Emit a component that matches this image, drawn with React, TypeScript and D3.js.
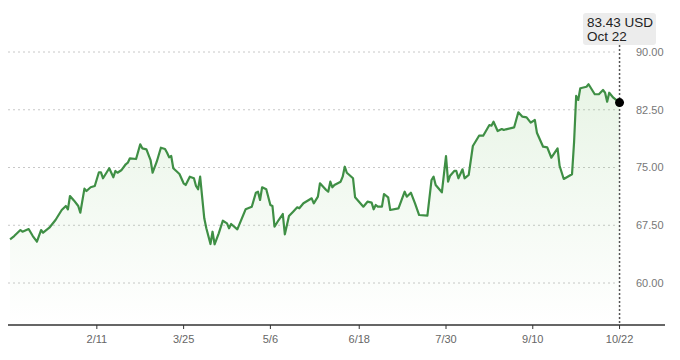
import * as d3 from "d3";

const WIDTH = 680;
const HEIGHT = 360;

// closing prices (USD)
const dates = [
  "2018-12-31", "2019-01-02", "2019-01-05", "2019-01-06", "2019-01-09", "2019-01-11", "2019-01-13", "2019-01-15", "2019-01-16", "2019-01-19",
  "2019-01-22", "2019-01-25", "2019-01-27", "2019-01-28", "2019-01-29", "2019-01-31", "2019-02-02", "2019-02-03", "2019-02-05", "2019-02-06",
  "2019-02-08", "2019-02-10", "2019-02-12", "2019-02-13", "2019-02-14", "2019-02-17", "2019-02-19", "2019-02-20", "2019-02-21", "2019-02-23",
  "2019-02-25", "2019-02-26", "2019-02-27", "2019-03-02", "2019-03-04", "2019-03-05", "2019-03-07", "2019-03-09", "2019-03-10", "2019-03-12",
  "2019-03-14", "2019-03-16", "2019-03-17", "2019-03-18", "2019-03-19", "2019-03-20", "2019-03-23", "2019-03-25", "2019-03-26", "2019-03-28",
  "2019-03-30", "2019-03-31", "2019-04-01", "2019-04-02", "2019-04-04", "2019-04-05", "2019-04-07", "2019-04-08", "2019-04-09", "2019-04-11",
  "2019-04-13", "2019-04-15", "2019-04-16", "2019-04-17", "2019-04-20", "2019-04-24", "2019-04-27", "2019-04-29", "2019-04-30", "2019-05-01",
  "2019-05-02", "2019-05-04", "2019-05-06", "2019-05-07", "2019-05-08", "2019-05-10", "2019-05-12", "2019-05-13", "2019-05-15", "2019-05-17",
  "2019-05-19", "2019-05-20", "2019-05-22", "2019-05-26", "2019-05-27", "2019-05-29", "2019-05-30", "2019-06-02", "2019-06-03", "2019-06-04",
  "2019-06-05", "2019-06-06", "2019-06-09", "2019-06-10", "2019-06-11", "2019-06-12", "2019-06-15", "2019-06-16", "2019-06-20", "2019-06-22",
  "2019-06-24", "2019-06-25", "2019-06-26", "2019-06-27", "2019-06-29", "2019-06-30", "2019-07-02", "2019-07-03", "2019-07-07", "2019-07-10",
  "2019-07-11", "2019-07-13", "2019-07-15", "2019-07-17", "2019-07-21", "2019-07-23", "2019-07-24", "2019-07-25", "2019-07-28", "2019-07-30",
  "2019-07-31", "2019-08-01", "2019-08-03", "2019-08-04", "2019-08-05", "2019-08-07", "2019-08-08", "2019-08-10", "2019-08-12", "2019-08-15",
  "2019-08-17", "2019-08-20", "2019-08-21", "2019-08-22", "2019-08-24", "2019-08-26", "2019-08-27", "2019-08-28", "2019-09-01", "2019-09-03",
  "2019-09-05", "2019-09-07", "2019-09-09", "2019-09-11", "2019-09-12", "2019-09-15", "2019-09-17", "2019-09-19", "2019-09-22", "2019-09-23",
  "2019-09-25", "2019-09-29", "2019-09-30", "2019-10-01", "2019-10-02", "2019-10-03", "2019-10-06", "2019-10-07", "2019-10-10", "2019-10-12",
  "2019-10-14", "2019-10-15", "2019-10-16", "2019-10-17", "2019-10-19", "2019-10-22",
];

const prices = [
  65.68, 66.1, 66.88, 66.66, 67.01, 66.1, 65.36, 66.88, 66.53, 67.18,
  68.18, 69.48, 70.0, 69.57, 71.3, 70.69, 70.0, 69.13, 72.25, 71.95,
  72.43, 72.6, 74.38, 74.38, 73.6, 74.9, 73.73, 74.55, 74.32, 74.68,
  75.42, 75.62, 76.19, 76.1, 78.01, 77.49, 77.36, 75.97, 74.32, 75.75,
  77.57, 77.4, 76.92, 76.32, 76.49, 74.9, 74.16, 72.95, 72.73, 73.81,
  73.6, 72.6, 72.17, 73.81, 68.4, 67.1, 65.06, 66.66, 65.03, 66.45,
  68.09, 67.75, 67.1, 67.66, 66.97, 69.57, 69.91, 71.73, 71.86, 70.78,
  72.43, 72.17, 70.13, 70.0, 67.31, 68.18, 68.96, 66.32, 68.7, 69.26,
  69.83, 69.7, 70.35, 71.0, 70.35, 71.21, 72.95, 72.08, 71.86, 73.16,
  72.43, 72.73, 73.16, 73.81, 75.1, 74.32, 73.6, 71.13, 69.91, 70.56,
  70.43, 69.57, 70.13, 69.91, 69.91, 71.56, 71.13, 69.48, 69.7, 71.86,
  71.21, 71.73, 70.35, 68.83, 68.74, 73.38, 73.81, 72.73, 71.78, 76.49,
  73.16, 73.94, 74.55, 74.55, 73.6, 74.77, 73.6, 74.03, 77.79, 79.13,
  79.13, 80.52, 80.43, 80.95, 79.74, 80.0, 79.87, 79.96, 80.22, 82.17,
  81.6, 81.52, 80.82, 81.17, 79.52, 77.7, 77.62, 76.27, 77.49, 75.19,
  73.51, 74.12, 78.35, 84.29, 83.77, 85.29, 85.49, 85.81, 84.51, 84.51,
  85.06, 84.71, 83.55, 84.71, 84.06, 83.43,
];

const xTicks = ["2019-02-11", "2019-03-25", "2019-05-06", "2019-06-18", "2019-07-30", "2019-09-10", "2019-10-22"];
const yTicks = [60, 67.5, 75, 82.5, 90];
const domainDates = ["2018-12-30", "2019-11-13"];

const parse = d3.timeParse("%Y-%m-%d");
const FONT = "'Liberation Sans', Arial, sans-serif";

export default function App() {
  const data = dates.map((d, i) => ({ date: parse(d)!, value: prices[i] }));
  const last = data[data.length - 1];

  const x = d3
    .scaleTime()
    .domain(domainDates.map((d) => parse(d)!))
    .range([8, 665]);
  const y = d3.scaleLinear().domain([60, 90]).range([283, 52]);

  const baseY = 325;
  const lastX = x(last.date);
  const lastY = y(last.value);

  const line = d3
    .line<{ date: Date; value: number }>()
    .x((d) => x(d.date))
    .y((d) => y(d.value));
  const area = d3
    .area<{ date: Date; value: number }>()
    .x((d) => x(d.date))
    .y0(baseY)
    .y1((d) => y(d.value));

  const fmtTick = d3.timeFormat("%-m/%-d");
  const fmtTip = d3.timeFormat("%b %-d");

  return (
    <svg
      width={WIDTH}
      height={HEIGHT}
      style={{ position: "absolute", left: 0, top: 0, background: "#fff" }}
      fontFamily={FONT}
    >
      <defs>
        <linearGradient id="fillGrad" gradientUnits="userSpaceOnUse" x1={0} y1={80} x2={0} y2={baseY}>
          <stop offset="0%" stopColor="#6dbb5f" stopOpacity={0.16} />
          <stop offset="100%" stopColor="#6dbb5f" stopOpacity={0} />
        </linearGradient>
      </defs>

      {yTicks.map((t) => (
        <g key={t}>
          <line
            x1={8}
            x2={lastX - 3}
            y1={y(t)}
            y2={y(t)}
            stroke="#c8c8c8"
            strokeWidth={1}
            strokeDasharray="2,3"
          />
          <text x={636} y={y(t)} dy="0.35em" fontSize={11} fill="#777">
            {d3.format(".2f")(t)}
          </text>
        </g>
      ))}

      <path d={area(data) ?? ""} fill="url(#fillGrad)" />
      <path
        d={line(data) ?? ""}
        fill="none"
        stroke="#3f8f45"
        strokeWidth={2.2}
        strokeLinejoin="round"
      />

      <line
        x1={lastX}
        x2={lastX}
        y1={45}
        y2={baseY}
        stroke="#555"
        strokeWidth={1.5}
        strokeDasharray="2,2"
      />

      <line x1={8} x2={665} y1={baseY} y2={baseY} stroke="#333" strokeWidth={1.5} />
      {xTicks.map((t) => {
        const d = parse(t)!;
        return (
          <g key={t} transform={`translate(${x(d)},${baseY})`}>
            <line y1={0} y2={4} stroke="#333" strokeWidth={1} />
            <text y={14} dy="0.35em" textAnchor="middle" fontSize={11} fill="#666">
              {fmtTick(d)}
            </text>
          </g>
        );
      })}

      <circle cx={lastX} cy={lastY} r={4.5} fill="#000" />

      <rect x={583} y={13} width={73} height={32} rx={3} fill="#ececec" />
      <text x={587} y={27} fontSize={13.5} fill="#222">
        {last.value.toFixed(2)} USD
      </text>
      <text x={587} y={41} fontSize={13.5} fill="#222">
        {fmtTip(last.date)}
      </text>
    </svg>
  );
}
